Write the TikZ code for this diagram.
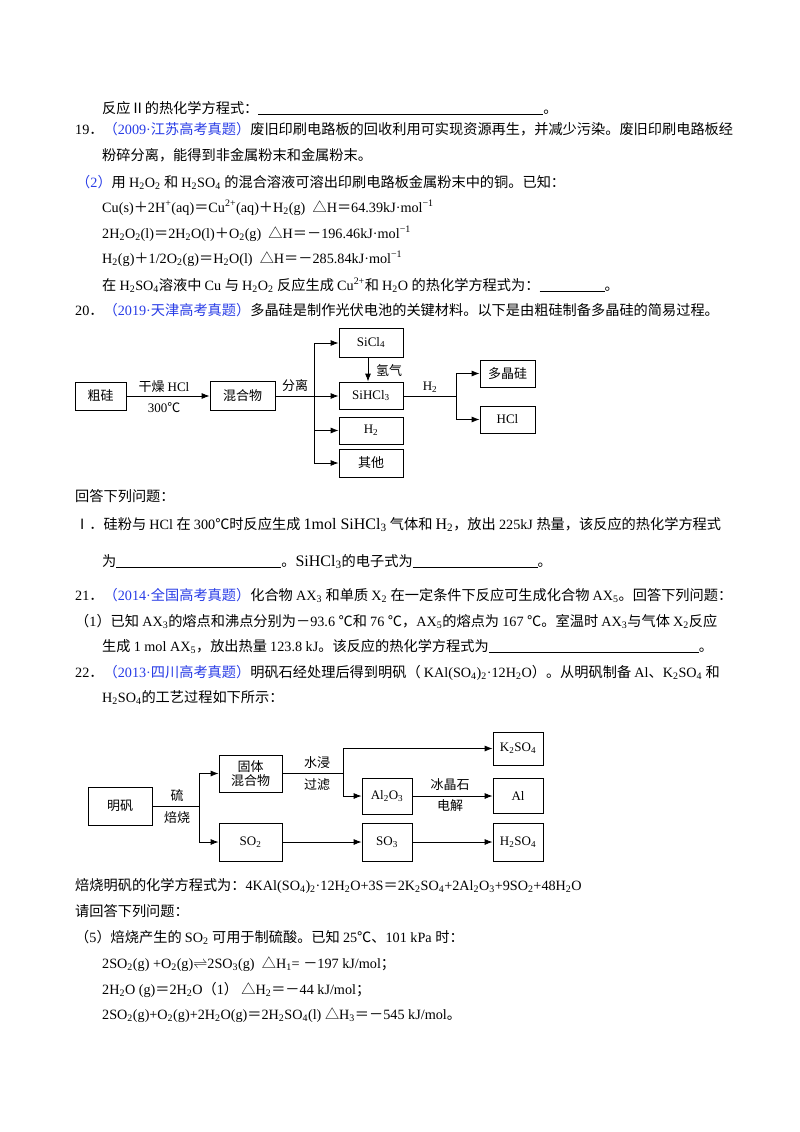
\documentclass[tikz,border=0pt]{standalone}
\usepackage{fontspec}
\setmainfont{Liberation Serif}
\newfontfamily\cjk{Noto Sans CJK SC}
\usetikzlibrary{arrows.meta}
\XeTeXinterchartokenstate=1
\newXeTeXintercharclass\cjkclass
\count255="3000 \loop \XeTeXcharclass\count255=\cjkclass \advance\count255 1 \ifnum\count255<"3040 \repeat
\count255="4E00 \loop \XeTeXcharclass\count255=\cjkclass \advance\count255 1 \ifnum\count255<"A000 \repeat
\count255="FF00 \loop \XeTeXcharclass\count255=\cjkclass \advance\count255 1 \ifnum\count255<"FFF0 \repeat
\XeTeXcharclass"2103=\cjkclass
\XeTeXcharclass"2160=\cjkclass
\XeTeXcharclass"2161=\cjkclass
\XeTeXcharclass"25B3=\cjkclass
\XeTeXinterchartoks 0 \cjkclass = {\cjk}
\XeTeXinterchartoks 4095 \cjkclass = {\cjk}
\XeTeXinterchartoks \cjkclass 0 = {\rmfamily}
\XeTeXinterchartoks 4095 0 = {\rmfamily}
\newcommand\dn[1]{\textsubscript{#1}}
\newcommand\up[1]{\textsuperscript{#1}}
\newcommand\blank[1]{\rule[-2pt]{#1pt}{0.6pt}}
\definecolor{qblue}{RGB}{40,60,230}
\newcommand\bl[1]{\textcolor{qblue}{#1}}
\begin{document}
\begin{tikzpicture}[x=1pt,y=-1pt,
  t/.style={anchor=base west,inner sep=0pt,font=\fontsize{14.2}{16}\selectfont},
  box/.style={draw,line width=0.8pt,inner sep=0pt,font=\fontsize{13}{15}\selectfont},
  ar/.style={line width=0.8pt,-{Latex[length=8pt,width=6pt]}},
  ln/.style={line width=0.8pt},
  lab/.style={inner sep=0pt,font=\fontsize{13}{15}\selectfont}]
\useasboundingbox (0,0) rectangle (800,1132);
% text
\node[t] (l1) at (102,113) {反应Ⅱ的热化学方程式：\blank{285}。};
\node[t] (l2) at (75,134) {19．\bl{（2009·江苏高考真题）}废旧印刷电路板的回收利用可实现资源再生，并减少污染。废旧印刷电路板经};
\node[t] (l3) at (102,160) {粉碎分离，能得到非金属粉末和金属粉末。};
\node[t] (l4) at (76,187) {\bl{（2）}用 H\dn{2}O\dn{2} 和 H\dn{2}SO\dn{4} 的混合溶液可溶出印刷电路板金属粉末中的铜。已知：};
\node[t] (l5) at (102,212) {Cu(s)＋2H\up{+}(aq)＝Cu\up{2+}(aq)＋H\dn{2}(g) \ △H＝64.39kJ·mol\up{−1}};
\node[t] (l6) at (102,238) {2H\dn{2}O\dn{2}(l)＝2H\dn{2}O(l)＋O\dn{2}(g) \ △H＝－196.46kJ·mol\up{−1}};
\node[t] (l7) at (102,263) {H\dn{2}(g)＋1/2O\dn{2}(g)＝H\dn{2}O(l) \ △H＝－285.84kJ·mol\up{−1}};
\node[t] (l8) at (102,290) {在 H\dn{2}SO\dn{4}溶液中 Cu 与 H\dn{2}O\dn{2} 反应生成 Cu\up{2+}和 H\dn{2}O 的热化学方程式为：\blank{65}。};
\node[t] (l9) at (75,315) {20．\bl{（2019·天津高考真题）}多晶硅是制作光伏电池的关键材料。以下是由粗硅制备多晶硅的简易过程。};
\node[t] (l10) at (75,501) {回答下列问题：};
\node[t] (l11) at (75,529) {Ⅰ．硅粉与 HCl 在 300℃时反应生成 {\fontsize{16}{17}\selectfont 1mol SiHCl\dn{3}} 气体和 {\fontsize{16}{17}\selectfont H\dn{2}}，放出 225kJ 热量，该反应的热化学方程式};
\node[t] (l12) at (102,566) {为\blank{165}。{\fontsize{16}{17}\selectfont SiHCl\dn{3}}的电子式为\blank{125}。};
\node[t] (l13) at (75,600) {21．\bl{（2014·全国高考真题）}化合物 AX\dn{3} 和单质 X\dn{2} 在一定条件下反应可生成化合物 AX\dn{5}。回答下列问题：};
\node[t] (l14) at (75,626) {（1）已知 AX\dn{3}的熔点和沸点分别为－93.6 ℃和 76 ℃，AX\dn{5}的熔点为 167 ℃。室温时 AX\dn{3}与气体 X\dn{2}反应};
\node[t] (l15) at (102,651) {生成 1 mol AX\dn{5}，放出热量 123.8 kJ。该反应的热化学方程式为\blank{210}。};
\node[t] (l16) at (75,677) {22．\bl{（2013·四川高考真题）}明矾石经处理后得到明矾（ KAl(SO\dn{4})\dn{2}·12H\dn{2}O）。从明矾制备 Al、K\dn{2}SO\dn{4} 和};
\node[t] (l17) at (102,702) {H\dn{2}SO\dn{4}的工艺过程如下所示：};
\node[t] (l18) at (75,890) {焙烧明矾的化学方程式为：4KAl(SO\dn{4})\dn{2}·12H\dn{2}O+3S＝2K\dn{2}SO\dn{4}+2Al\dn{2}O\dn{3}+9SO\dn{2}+48H\dn{2}O};
\node[t] (l19) at (75,916) {请回答下列问题：};
\node[t] (l20) at (75,942) {（5）焙烧产生的 SO\dn{2} 可用于制硫酸。已知 25℃、101 kPa 时：};
\node[t] (l21) at (102,968) {2SO\dn{2}(g) +O\dn{2}(g)$\rightleftharpoons$2SO\dn{3}(g) \ △H\dn{1}= －197 kJ/mol；};
\node[t] (l22) at (102,994) {2H\dn{2}O (g)＝2H\dn{2}O（1） △H\dn{2}＝－44 kJ/mol；};
\node[t] (l23) at (102,1019) {2SO\dn{2}(g)+O\dn{2}(g)+2H\dn{2}O(g)＝2H\dn{2}SO\dn{4}(l) △H\dn{3}＝－545 kJ/mol。};
% diagram 1
\node[box,minimum width=51pt,minimum height=28pt] (cg) at (100.5,396) {粗硅};
\node[box,minimum width=65pt,minimum height=29pt] (hhw) at (242.5,395.5) {混合物};
\node[box,minimum width=64pt,minimum height=29pt] (sicl4) at (371,342.5) {SiCl\dn{4}};
\node[box,minimum width=64pt,minimum height=27pt] (sihcl3) at (371,395.5) {SiHCl\dn{3}};
\node[box,minimum width=64pt,minimum height=27pt] (h2) at (371,430.5) {H\dn{2}};
\node[box,minimum width=64pt,minimum height=28pt] (qt) at (371,463) {其他};
\node[box,minimum width=55pt,minimum height=27pt] (djg) at (507.5,373.5) {多晶硅};
\node[box,minimum width=55pt,minimum height=27pt] (hcl) at (507.5,419.5) {HCl};
\draw[ar] (cg.east|-0,396) -- (hhw.west|-0,396);
\node[lab] (c1) at (164,387) {干燥 HCl};
\node[lab] (c2) at (164,408) {300℃};
\coordinate (b1) at (314,396);
\draw[ln] (hhw.east|-b1) -- (b1);
\node[lab] (c3) at (295,386) {分离};
\draw[ln] (314,343) -- (314,463);
\draw[ar] (314,343) -- (sicl4.west|-0,343);
\draw[ar] (b1) -- (sihcl3.west|-b1);
\draw[ar] (314,430.5) -- (h2.west);
\draw[ar] (314,463) -- (qt.west);
\draw[ar] (sicl4.south-|368,0) -- (sihcl3.north-|368,0);
\node[lab] (c4) at (389,371) {氢气};
\coordinate (b2) at (456,396);
\draw[ln] (sihcl3.east|-b2) -- (b2);
\node[lab] (c5) at (430,387) {H\dn{2}};
\draw[ln] (456,373.5) -- (456,419.5);
\draw[ar] (456,373.5) -- (djg.west);
\draw[ar] (456,419.5) -- (hcl.west);
% diagram 2
\node[box,minimum width=64pt,minimum height=38pt] (mf) at (120,806) {明矾};
\node[box,minimum width=63pt,minimum height=37pt,align=center,font=\fontsize{13}{14}\selectfont] (gt) at (250.5,773.5) {固体\\混合物};
\node[box,minimum width=63pt,minimum height=38pt] (so2) at (250.5,842) {SO\dn{2}};
\node[box,minimum width=50pt,minimum height=33pt] (k2so4) at (518,748.5) {K\dn{2}SO\dn{4}};
\node[box,minimum width=50pt,minimum height=36pt] (al2o3) at (387,796) {Al\dn{2}O\dn{3}};
\node[box,minimum width=50pt,minimum height=35pt] (al) at (518,795.5) {Al};
\node[box,minimum width=50pt,minimum height=38pt] (so3) at (387,842) {SO\dn{3}};
\node[box,minimum width=50pt,minimum height=38pt] (h2so4) at (518,842) {H\dn{2}SO\dn{4}};
\draw[ln] (mf.east) -- (199,806);
\node[lab] (d1) at (177,796) {硫};
\node[lab] (d2) at (177,818) {焙烧};
\draw[ln] (199,773.5) -- (199,842);
\draw[ar] (199,773.5) -- (gt.west);
\draw[ar] (199,842) -- (so2.west);
\draw[ln] (gt.east) -- (343,773.5);
\node[lab] (d3) at (317,763) {水浸};
\node[lab] (d4) at (317,785) {过滤};
\draw[ln] (343,748.5) -- (343,796);
\draw[ar] (343,748.5) -- (k2so4.west);
\draw[ar] (343,796) -- (al2o3.west);
\draw[ar] (al2o3.east) -- (al.west|-al2o3.east);
\node[lab] (d5) at (450,785) {冰晶石};
\node[lab] (d6) at (450,806) {电解};
\draw[ar] (so2.east) -- (so3.west);
\draw[ar] (so3.east) -- (h2so4.west);
\end{tikzpicture}
\end{document}
